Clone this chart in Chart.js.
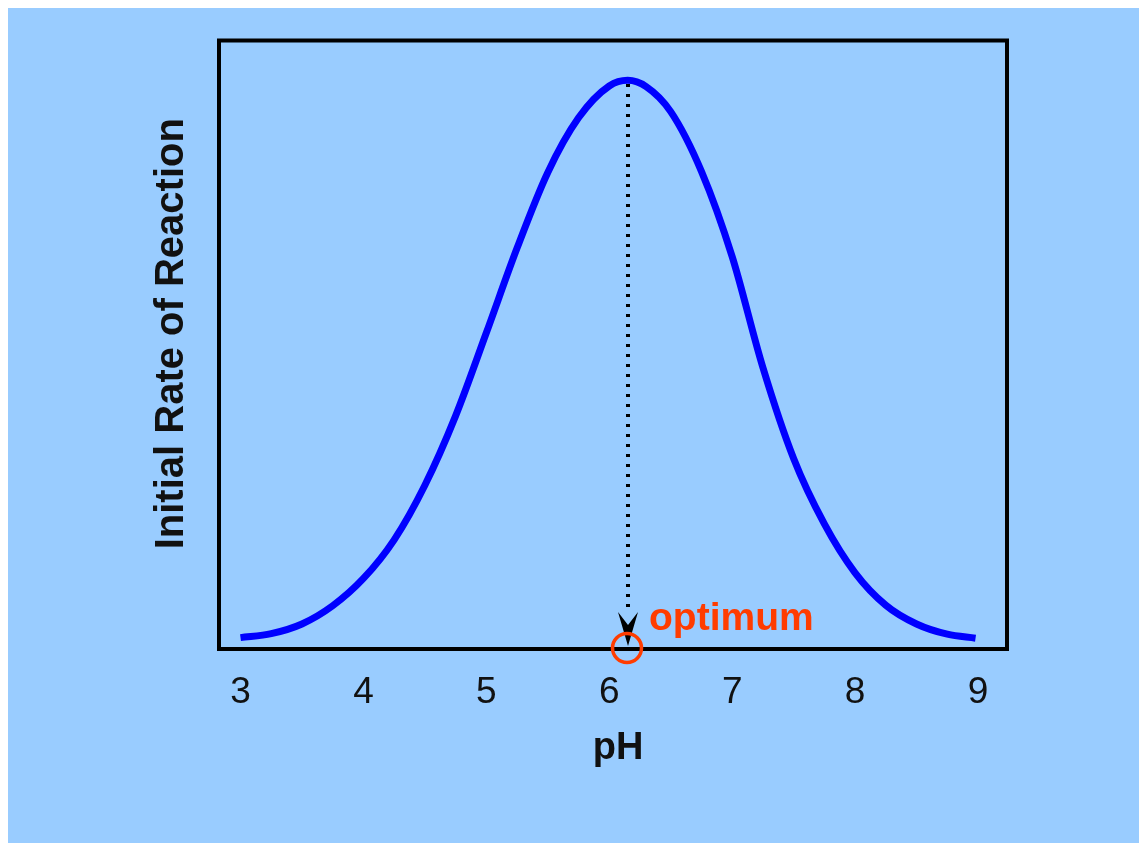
<!DOCTYPE html>
<html><head><meta charset="utf-8">
<script src="https://cdn.jsdelivr.net/npm/chart.js@4.4.0/dist/chart.umd.min.js"></script>
<style>
html,body{margin:0;padding:0;background:#fff;width:1139px;height:843px;overflow:hidden}
#wrap{position:absolute;left:8px;top:8px;width:1131px;height:835px;background:#99ccff}
canvas{display:block}
</style></head><body><div id="wrap"><canvas id="c" width="1131" height="835"></canvas></div>
<script>
// Data
const pH   = [3.0, 3.25, 3.5, 3.75, 4.0, 4.25, 4.5, 4.75, 5.0, 5.25, 5.5, 5.75, 6.0, 6.15, 6.3, 6.5, 6.75, 7.0, 7.25, 7.5, 7.75, 8.0, 8.25, 8.5, 8.75, 8.98];
const rate = [0.020, 0.027, 0.044, 0.076, 0.124, 0.192, 0.288, 0.410, 0.556, 0.705, 0.838, 0.934, 0.990, 1.0, 0.989, 0.945, 0.840, 0.690, 0.495, 0.335, 0.220, 0.134, 0.077, 0.044, 0.026, 0.019];
const tickValues = [3, 4, 5, 6, 7, 8, 9];
const xTitle = 'pH';
const yTitle = 'Initial Rate of Reaction';
const optimumLabel = 'optimum';
const optimumPH = 6.15;
const optimumRate = 1.0;

const FONT = '"Liberation Sans", Arial, Helvetica, sans-serif';

const overlay = {
  id: 'overlay',
  afterDatasetsDraw(chart) {
    const ctx = chart.ctx, a = chart.chartArea;
    const xs = chart.scales.x, ys = chart.scales.y;
    ctx.save();
    // frame
    ctx.strokeStyle = '#000';
    ctx.lineWidth = 4;
    ctx.strokeRect(a.left, a.top, a.right - a.left, a.bottom - a.top);

    // dotted line down to optimum
    const ox = Math.round(xs.getPixelForValue(optimumPH));
    const y0 = ys.getPixelForValue(0);
    const yp = ys.getPixelForValue(optimumRate);
    ctx.fillStyle = '#000';
    for (let y = yp + 4; y < y0 - 38; y += 10) {
      ctx.fillRect(ox - 2, Math.round(y), 4, 3);
    }
    // arrow head
    ctx.beginPath();
    ctx.moveTo(ox, y0 - 3);
    ctx.lineTo(ox - 10, y0 - 37);
    ctx.lineTo(ox, y0 - 24);
    ctx.lineTo(ox + 10, y0 - 37);
    ctx.closePath();
    ctx.fill();

    // circle
    ctx.strokeStyle = '#ff3c00';
    ctx.lineWidth = 3.5;
    ctx.beginPath();
    ctx.arc(ox - 1, y0 - 1, 14.5, 0, Math.PI * 2);
    ctx.stroke();

    // optimum label
    ctx.fillStyle = '#ff3c00';
    ctx.font = 'bold 39px ' + FONT;
    ctx.textAlign = 'left';
    ctx.textBaseline = 'alphabetic';
    ctx.fillText(optimumLabel, ox + 21, y0 - 19);

    // axis titles
    ctx.fillStyle = '#111';
    ctx.font = 'bold 38px ' + FONT;
    ctx.textAlign = 'center';
    ctx.fillText(xTitle, 610, 751);
    ctx.font = 'bold 40px ' + FONT;
    ctx.translate(175, 325.7);
    ctx.rotate(-Math.PI / 2);
    ctx.fillText(yTitle, 0, 0);
    ctx.restore();
  }
};

new Chart(document.getElementById('c'), {
  type: 'line',
  data: {
    datasets: [{
      data: pH.map((x, i) => ({ x: x, y: rate[i] })),
      borderColor: '#0000ff',
      borderWidth: 7,
      borderCapStyle: 'butt',
      pointRadius: 0,
      fill: false,
      cubicInterpolationMode: 'monotone',
      clip: false
    }]
  },
  options: {
    responsive: false,
    devicePixelRatio: 1,
    animation: false,
    events: [],
    layout: { padding: { left: 0, right: 132, top: 32.5, bottom: 0 } },
    plugins: { legend: { display: false }, tooltip: { enabled: false }, title: { display: false } },
    scales: {
      x: {
        type: 'linear',
        min: 2.825, max: 9.236,
        grid: { display: false },
        border: { display: false },
        afterBuildTicks(s) { s.ticks = tickValues.map(v => ({ value: v })); },
        afterFit(s) { s.height = 194; },
        ticks: {
          color: '#111',
          font: { family: FONT, size: 37 },
          padding: 14,
          maxRotation: 0,
          autoSkip: false,
          callback: v => String(v)
        }
      },
      y: {
        min: 0, max: 1.07,
        grid: { display: false },
        border: { display: false },
        ticks: { display: false },
        afterFit(s) { s.width = 211; }
      }
    }
  },
  plugins: [overlay]
});
</script>
</body></html>
